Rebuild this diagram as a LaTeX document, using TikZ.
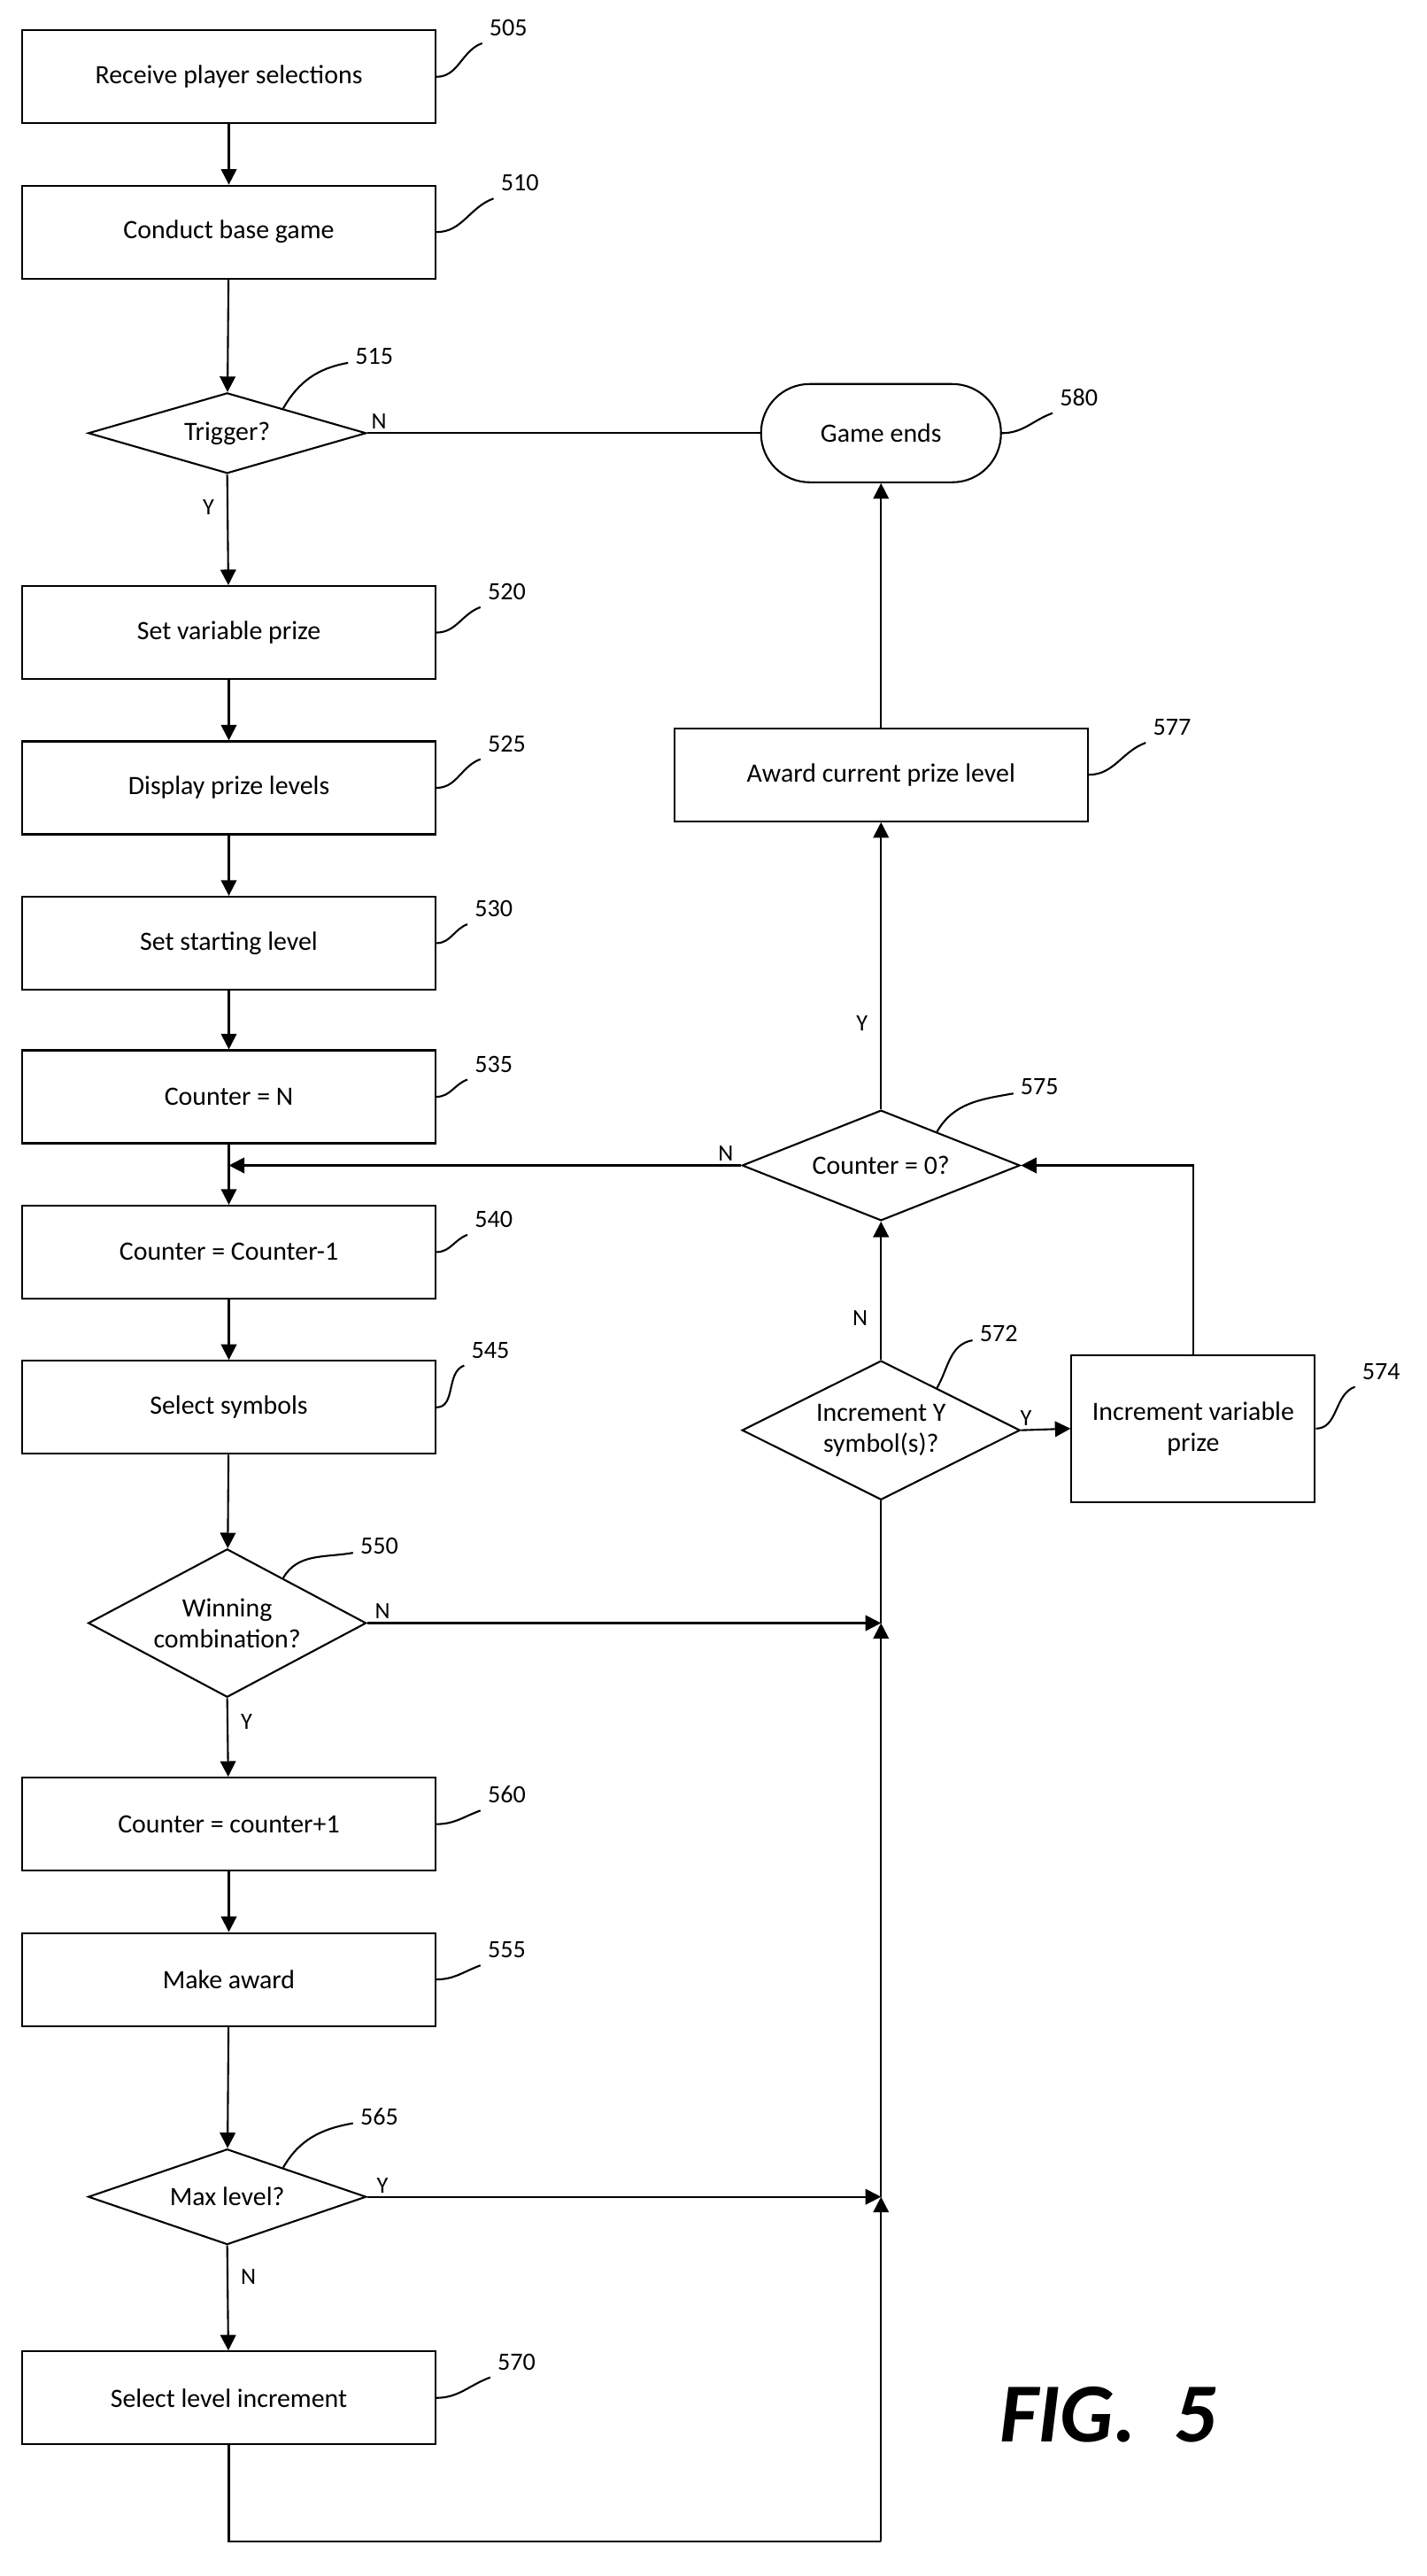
\documentclass[tikz,border=0pt]{standalone}
\usepackage{fontspec}
\setmainfont{Carlito}
\usetikzlibrary{arrows.meta,shapes.geometric,calc}
\tikzset{>={Triangle[length=5pt,width=5pt]}}
\begin{document}
\begin{tikzpicture}[x=0.01846cm,y=-0.01846cm,line width=0.6pt,
	box/.style={draw,rectangle,minimum width=4.67cm,minimum height=1.05cm,inner sep=2pt,font=\fontsize{8.5}{10}\selectfont,align=center},
	dec/.style={draw,diamond,aspect=1.49,minimum width=3.14cm,inner sep=0pt,font=\fontsize{8.5}{10}\selectfont,align=center},
	term/.style={draw,rectangle,rounded corners=0.55cm,minimum width=2.71cm,minimum height=1.11cm,font=\fontsize{8.5}{10}\selectfont},
	num/.style={font=\fontsize{8}{9}\selectfont,inner sep=1pt},
	yn/.style={font=\fontsize{7.5}{9}\selectfont,inner sep=1pt}]
\useasboundingbox (0,0) rectangle (873,1576);

% Left column
\node[box] (505) at (140,47) {Receive player selections};
\node[box] (510) at (140,142) {Conduct base game};
\node[dec] (515) at (139,265) {Trigger?};
\node[box] (520) at (140,387) {Set variable prize};
\node[box] (525) at (140,482) {Display prize levels};
\node[box] (530) at (140,577) {Set starting level};
\node[box] (535) at (140,671) {Counter = N};
\node[box] (540) at (140,766) {Counter = Counter-1};
\node[box] (545) at (140,861) {Select symbols};
\node[dec] (550) at (139,993) {Winning\\combination?};
\node[box] (560) at (140,1116) {Counter = counter+1};
\node[box] (555) at (140,1211) {Make award};
\node[dec] (565) at (139,1344) {Max level?};
\node[box] (570) at (140,1467) {Select level increment};

% Right column
\node[term] (580) at (539,265) {Game ends};
\node[box] (577) at (539,474) {Award current prize level};
\node[dec] (575) at (539,713) {Counter = 0?};
\node[dec] (572) at (539,875) {Increment Y\\symbol(s)?};
\node[box,minimum width=2.75cm,minimum height=1.66cm] (574) at (730,874) {Increment variable\\prize};

\coordinate (j540) at (140,713);
\coordinate (j550) at (539,993);
\coordinate (j565) at (539,1344);
\coordinate (bot) at (539,1555);
\coordinate (c574) at (730,713);

% Flow
\draw[->] (505) -- (510);
\draw[->] (510) -- (515);
\draw (515.east) -- node[yn,pos=0.03,above] {N} (580.west);
\draw[->] (515.south) -- node[yn,pos=0.3,left=3pt] {Y} (520);
\draw[->] (520) -- (525);
\draw[->] (525) -- (530);
\draw[->] (530) -- (535);
\draw[->] (535) -- (540);
\draw[->] (540) -- (545);
\draw[->] (545) -- (550);
\draw[->] (550.south) -- node[yn,pos=0.3,right=3pt] {Y} (560);
\draw[->] (560) -- (555);
\draw[->] (555) -- (565);
\draw[->] (565.south) -- node[yn,pos=0.3,right=3pt] {N} (570);
\draw[->] (550.east) -- node[yn,pos=0.03,above] {N} (j550);
\draw[->] (565.east) -- node[yn,pos=0.03,above] {Y} (j565);
\draw (570.south) |- (bot);
\draw[->] (bot) -- (j565);
\draw[->] (j565) -- (j550);
\draw (j550) -- (572.south);
\draw[->] (572.north) -- node[yn,pos=0.3,left=3pt] {N} (575.south);
\draw[->] (572.east) -- node[yn,pos=0.1,above] {Y} (574.west);
\draw[->] (574.north) |- (575.east);
\draw[->] (575.west) -- node[yn,pos=0.03,above] {N} (j540);
\draw[->] (575.north) -- node[yn,pos=0.3,left=3pt] {Y} (577.south);
\draw[->] (577.north) -- (580.south);

% Reference numbers
\foreach \b/\x/\y in {505/311/17,510/318/112,520/310/362,525/310/455,530/302/556,535/302/651,540/302/746,545/300/826,560/310/1098,555/310/1193,570/316/1445,577/717/445,574/845/839}{
	\node[num] (n\b) at (\x,\y) {\b};
	\draw (\b.east) to[out=0,in=200] ($(n\b.south west)+(-2,2)$);
}
\foreach \b/\x/\y in {515/229/218,550/232/946,565/232/1295,572/611/816,575/636/665}{
	\node[num] (n\b) at (\x,\y) {\b};
	\draw ($(\b.north)!0.4!(\b.east)$) to[out=60,in=190] ($(n\b.west)+(-2,4)$);
}
\node[num] (n580) at (660,243) {580};
\draw (580.east) to[out=0,in=200] ($(n580.south west)+(-2,2)$);

\node[font=\fontsize{27}{30}\selectfont\bfseries\itshape] (fig) at (678,1477) {FIG.~~5};
\end{tikzpicture}
\end{document}
